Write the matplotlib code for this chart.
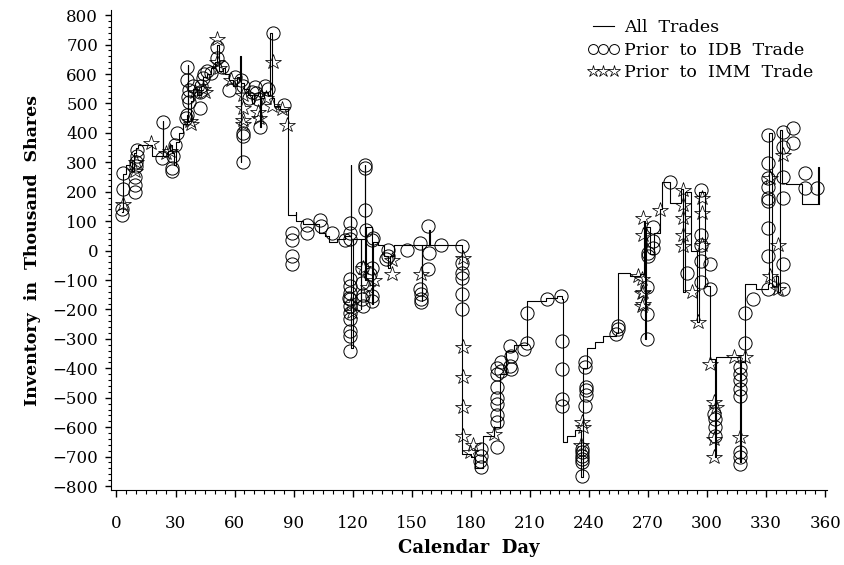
import matplotlib
matplotlib.use('Agg')
import matplotlib.pyplot as plt
import matplotlib.ticker as mticker

plt.rcParams['font.family'] = ['DejaVu Serif']

# ---------- All Trades: inventory path (day, thousand shares), drawn as steps ----------
line_day = [3, 3.5, 5, 7, 8, 9, 10, 11, 18, 23, 23.4, 23.5, 26, 27, 28, 29, 30, 32, 34, 36,
            36.2, 36.4, 38, 39, 41, 43, 44, 46, 48, 50, 51, 52, 54, 55, 57, 59, 61, 62, 63,
            63.2, 63.4, 65, 67, 69, 70, 72, 73, 73.2, 75, 77, 78, 79, 80, 83, 87, 91, 91.2,
            95, 100, 103, 106, 108, 112, 116, 119, 119.3, 120, 123, 124, 124.3, 126, 126.3,
            127, 130, 130.3, 133, 136, 138, 139, 141, 154, 155, 155.3, 159, 159.3, 174, 175.5,
            180, 182, 186, 190, 192, 195, 198, 202, 208.5, 218, 224, 226.5, 227, 229, 233, 236,
            237, 239, 243, 247, 254, 255, 261, 266, 268, 268.5, 269, 271, 273, 276, 277, 281,
            287, 288, 289, 292, 295, 296, 299, 301.5, 304, 304.5, 316, 316.5, 317, 319.5, 325,
            331, 331.5, 333, 335, 336, 337, 338, 340, 348, 356, 356.3, 357]
line_inv = [130, 260, 290, 300, 270, 330, 350, 360, 320, 320, 440, 320, 340, 360, 330, 290, 370,
            400, 430, 460, 630, 440, 510, 550, 530, 560, 590, 600, 620, 640, 700, 610, 620, 600,
            580, 560, 590, 580, 660, 300, 570, 550, 530, 500, 530, 540, 420, 520, 540, 530, 740,
            520, 490, 480, 120, 130, 100, 90, 90, 60, 50, 30, 40, 50, 290, -330, 40, 40, -200,
            40, 290, -100, 80, -180, 30, 20, -20, -60, -20, 20, 20, -170, 20, 70, 20, 20, -690,
            -700, -740, -630, -630, -600, -420, -340, -320, -170, -160, -155, -165, -650, -630,
            -610, -770, -400, -330, -310, -290, -280, -75, -85, -80, 100, -300, 80, -10, 60, 140,
            234, 163, 210, -139, 200, 0, -241, 200, -120, -370, -700, -363, -363, -720, -380,
            -115, -130, -115, 400, -120, -88, -140, 410, 230, 225, 160, 160, 285, 160]

# ---------- Prior to IDB Trade (circles) ----------
idb_day = [2.9, 2.9, 3.3, 3.3, 9.2, 9.2, 9.6, 9.8, 10, 10.3, 10.5, 23.5, 23.3, 28.2, 28.2, 28.5,
           30.5, 29.5, 35.9, 36, 37, 36.5, 37, 36, 35.5, 42.6, 42.6, 44, 43, 44.5, 39, 46, 51,
           51, 53.6, 48, 57, 60, 63.5, 64.5, 64.5, 64.5, 64.5, 70.6, 71, 72, 73, 75.6, 77, 79.5,
           85, 69, 67.5, 89, 89, 89, 89, 96.8, 97, 103.5, 104, 109.5, 116, 118.8, 118.8, 118.8,
           118.8, 118.8, 118.8, 118.8, 118.8, 118.8, 118.8, 118.8, 118.8, 118.8, 118, 126.4,
           126.4, 126.4, 126.6, 124.7, 124.7, 124.7, 125, 125, 129.8, 130.3, 129.8, 129.8, 129.8,
           128.6, 138, 138, 137, 147.6, 154.3, 154.3, 154.6, 154.6, 154.6, 158.4, 158.8, 158,
           165, 175.5, 175.5, 175.5, 175.5, 175.5, 175.5, 185, 185, 184.5, 185, 193.5, 193.5,
           193.5, 193.5, 193.5, 193.5, 193.5, 193.5, 195.5, 195.5, 200, 200.5, 200, 200.5, 208.5,
           207, 208.5, 218.6, 226, 226.5, 226.5, 226.5, 226.5, 236.5, 236.5, 236.5, 236.5, 236.5,
           236.5, 238.2, 238.2, 238.5, 238.5, 238.5, 238.2, 254.6, 254, 255, 269.5, 269.5, 269.5,
           272.3, 272.3, 272.3, 270, 270, 281, 289.7, 297, 297, 297, 297, 297, 301.5, 301.5, 304,
           304, 304, 303.5, 316.8, 316.8, 316.8, 316.8, 316.8, 316.8, 316.8, 316.8, 319.2, 319.2,
           323.5, 331, 331, 331, 331, 331, 331, 331, 331, 331, 338.6, 338.6, 338.6, 338.6, 338.6,
           338.6, 343.7, 343.7, 349.7, 349.7, 356]
idb_inv = [120, 140, 210, 262, 200, 222, 250, 286, 300, 320, 342, 438, 315, 272, 282, 320, 398,
           360, 625, 580, 545, 522, 505, 460, 450, 485, 540, 585, 560, 600, 560, 610, 692, 655,
           625, 605, 545, 590, 580, 560, 400, 390, 300, 557, 535, 515, 421, 560, 550, 738, 495,
           540, 520, 61, 37, -20, -47, 88, 60, 105, 85, 61, 37, 95, 60, 40, -98, -121, -143,
           -166, -189, -211, -234, -273, -290, -341, -160, 291, 281, 139, 71, -58, -110, -166,
           -189, -150, 37, 42, -58, -155, -172, -80, 3, -19, -30, 3, 27, -132, -149, -166, -176,
           82, -7, -64, 20, 15, -41, -75, -92, -149, -200, -675, -698, -715, -735, -669, -583,
           -560, -522, -500, -465, -420, -400, -380, -410, -325, -359, -393, -403, -313, -335,
           -211, -166, -155, -307, -403, -505, -528, -675, -685, -698, -708, -718, -766, -380,
           -395, -465, -475, -490, -528, -257, -285, -268, -122, -217, -302, 81, 31, 10, -7, -20,
           234, -75, 207, 54, 20, -37, -108, -47, -132, -573, -600, -630, -555, -395, -420, -440,
           -470, -495, -685, -702, -725, -313, -211, -166, 393, 298, 247, 217, 178, 168, 78, -20,
           -130, 403, 353, 251, 180, -47, -132, 417, 366, 264, 212, 212]

# ---------- Prior to IMM Trade (stars) ----------
imm_day = [3.2, 9.5, 10, 17.3, 25, 27, 37.5, 38, 40, 44, 45, 51, 51, 52, 58, 64.5, 64.5, 64.5,
           64.5, 72, 72.5, 76, 79.5, 79, 84, 86.6, 119, 119.5, 125, 128, 131, 140, 140, 154.6,
           176, 176, 176, 176, 176, 179.7, 181, 192, 236.5, 236, 237, 267, 267, 267, 265, 267.5,
           267.5, 267.5, 267.5, 276, 288, 288, 288, 288, 288, 292.5, 295.6, 297.5, 297.5, 297.5,
           301.5, 303.5, 304.6, 303.5, 303.5, 313.6, 319.2, 316.8, 332, 332, 338.6, 336, 336]
imm_inv = [160, 270, 300, 366, 330, 340, 440, 430, 540, 550, 540, 720, 640, 620, 580, 530, 485,
           445, 430, 470, 450, 520, 640, 490, 480, 427, -180, -210, -60, -125, -100, -31, -81,
           -81, -24, -329, -431, -533, -629, -686, -660, -624, -583, -660, -600, -98, -143, -189,
           -87, 112, 54, -139, -183, 139, 207, 156, 112, 54, 14, -139, -241, 180, 129, 20, -385,
           -515, -532, -640, -702, -363, -363, -634, 247, -88, 325, 20, -132]

x_ticks = list(range(0, 361, 30))
y_ticks = list(range(-800, 801, 100))

fig = plt.figure(figsize=(8.44, 5.65), dpi=100)
ax = fig.add_axes([0.131, 0.133, 0.849, 0.849])

ax.plot(line_day, line_inv, drawstyle='steps-post', color='black', linewidth=0.8,
        label='All  Trades')
ax.plot(idb_day, idb_inv, linestyle='none', marker='o', markersize=9.5,
        markerfacecolor='none', markeredgecolor='black', markeredgewidth=0.7,
        label='Prior  to  IDB  Trade')
ax.plot(imm_day, imm_inv, linestyle='none', marker='*', markersize=11.5,
        markerfacecolor='none', markeredgecolor='black', markeredgewidth=0.55,
        label='Prior  to  IMM  Trade')

ax.set_xlim(-3, 361)
ax.set_ylim(-813, 817)
ax.set_xticks(x_ticks)
ax.set_yticks(y_ticks)
ax.xaxis.set_minor_locator(mticker.MultipleLocator(5))
ax.yaxis.set_minor_locator(mticker.MultipleLocator(20))
ax.spines['top'].set_visible(False)
ax.spines['right'].set_visible(False)
ax.tick_params(axis='x', which='major', length=5, width=1, pad=13, labelsize=12)
ax.tick_params(axis='x', which='minor', length=3, width=0.8)
ax.tick_params(axis='y', which='major', length=4, width=1, pad=5, labelsize=12)
ax.tick_params(axis='y', which='minor', length=2, width=0.8)

ax.set_xlabel('Calendar  Day', fontsize=13, fontweight='bold', labelpad=5)
ax.set_ylabel('Inventory  in  Thousand  Shares', fontsize=12.5, fontweight='bold', labelpad=8)

leg = ax.legend(loc='upper left', bbox_to_anchor=(0.688, 0.978), bbox_transform=fig.transFigure,
                frameon=False, numpoints=3, markerscale=0.75, fontsize=12.5,
                handlelength=1.8, handletextpad=0.3, labelspacing=0.3, borderaxespad=0)

fig.savefig('out.png', dpi=100)
